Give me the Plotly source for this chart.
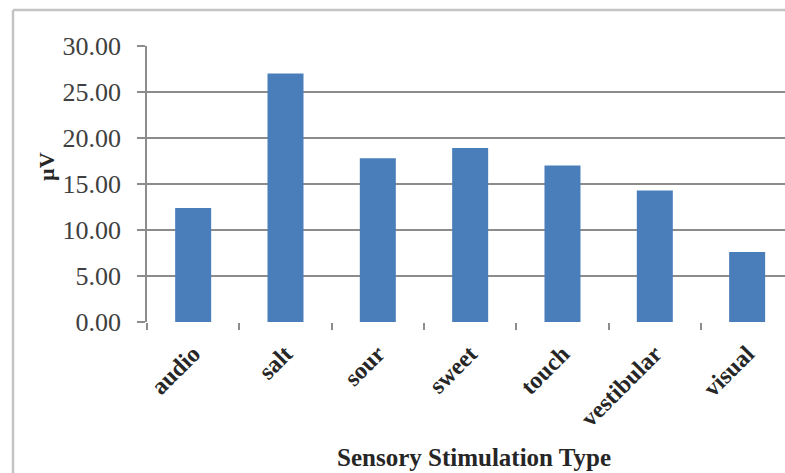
import plotly.graph_objects as go

# Mean evoked response per stimulation type
categories = ["audio", "salt", "sour", "sweet", "touch", "vestibular", "visual"]
values_uv = [12.4, 27.0, 17.8, 18.9, 17.0, 14.3, 7.6]
y_ticks = [0, 5, 10, 15, 20, 25, 30]
y_tick_labels = [f"{v:.2f}" for v in y_ticks]

W, H = 785, 473
L, T, B = 147, 46, 151
plot_w = W - L
plot_h = H - T - B

serif = "Liberation Serif, Times New Roman, serif"
grid_col = "#8c8c8c"
frame_col = "#c4c4c4"


def px_x(px):
    return (px - L) / plot_w


def px_y(py):
    return (H - B - py) / plot_h


fig = go.Figure(
    go.Bar(
        x=categories,
        y=values_uv,
        marker=dict(color="#4a7ebb", line=dict(width=0)),
        width=0.39,
    )
)

fig.update_layout(
    width=W,
    height=H,
    margin=dict(l=L, r=0, t=T, b=B, pad=0),
    paper_bgcolor="white",
    plot_bgcolor="white",
    showlegend=False,
    xaxis=dict(
        range=[-0.5, 6.41],
        tickangle=-45,
        tickson="boundaries",
        ticks="outside",
        ticklen=7,
        tickcolor=grid_col,
        tickwidth=1.5,
        ticklabelstandoff=12,
        showline=False,
        showgrid=False,
        tickfont=dict(family=serif, size=24, color="#262626", weight="bold"),
    ),
    yaxis=dict(
        range=[0, 30],
        tickvals=y_ticks,
        ticktext=y_tick_labels,
        ticks="outside",
        ticklen=8,
        tickcolor=grid_col,
        tickwidth=1.5,
        ticklabelstandoff=11,
        showgrid=True,
        gridcolor=grid_col,
        gridwidth=1.5,
        showline=True,
        linecolor=grid_col,
        linewidth=1.5,
        zeroline=False,
        tickfont=dict(family=serif, size=26, color="#404040"),
    ),
    shapes=[
        # outer chart frame: top and left edges
        dict(type="line", xref="paper", yref="paper",
             x0=px_x(13), x1=px_x(W + 10), y0=px_y(10), y1=px_y(10),
             line=dict(color=frame_col, width=2.5), layer="below"),
        dict(type="line", xref="paper", yref="paper",
             x0=px_x(13), x1=px_x(13), y0=px_y(10), y1=px_y(H + 10),
             line=dict(color=frame_col, width=2.5), layer="below"),
    ],
    annotations=[
        dict(
            text="<b>Sensory Stimulation Type</b>",
            xref="paper", yref="paper",
            x=px_x(474), y=px_y(457),
            xanchor="center", yanchor="middle", showarrow=False,
            font=dict(family=serif, size=25, color="#262626"),
        ),
        dict(
            text="<b>µV</b>",
            xref="paper", yref="paper",
            x=px_x(46), y=px_y(167),
            xanchor="center", yanchor="middle", showarrow=False,
            textangle=-90,
            font=dict(family=serif, size=22, color="#262626"),
        ),
    ],
)

fig.write_html("out.html")
